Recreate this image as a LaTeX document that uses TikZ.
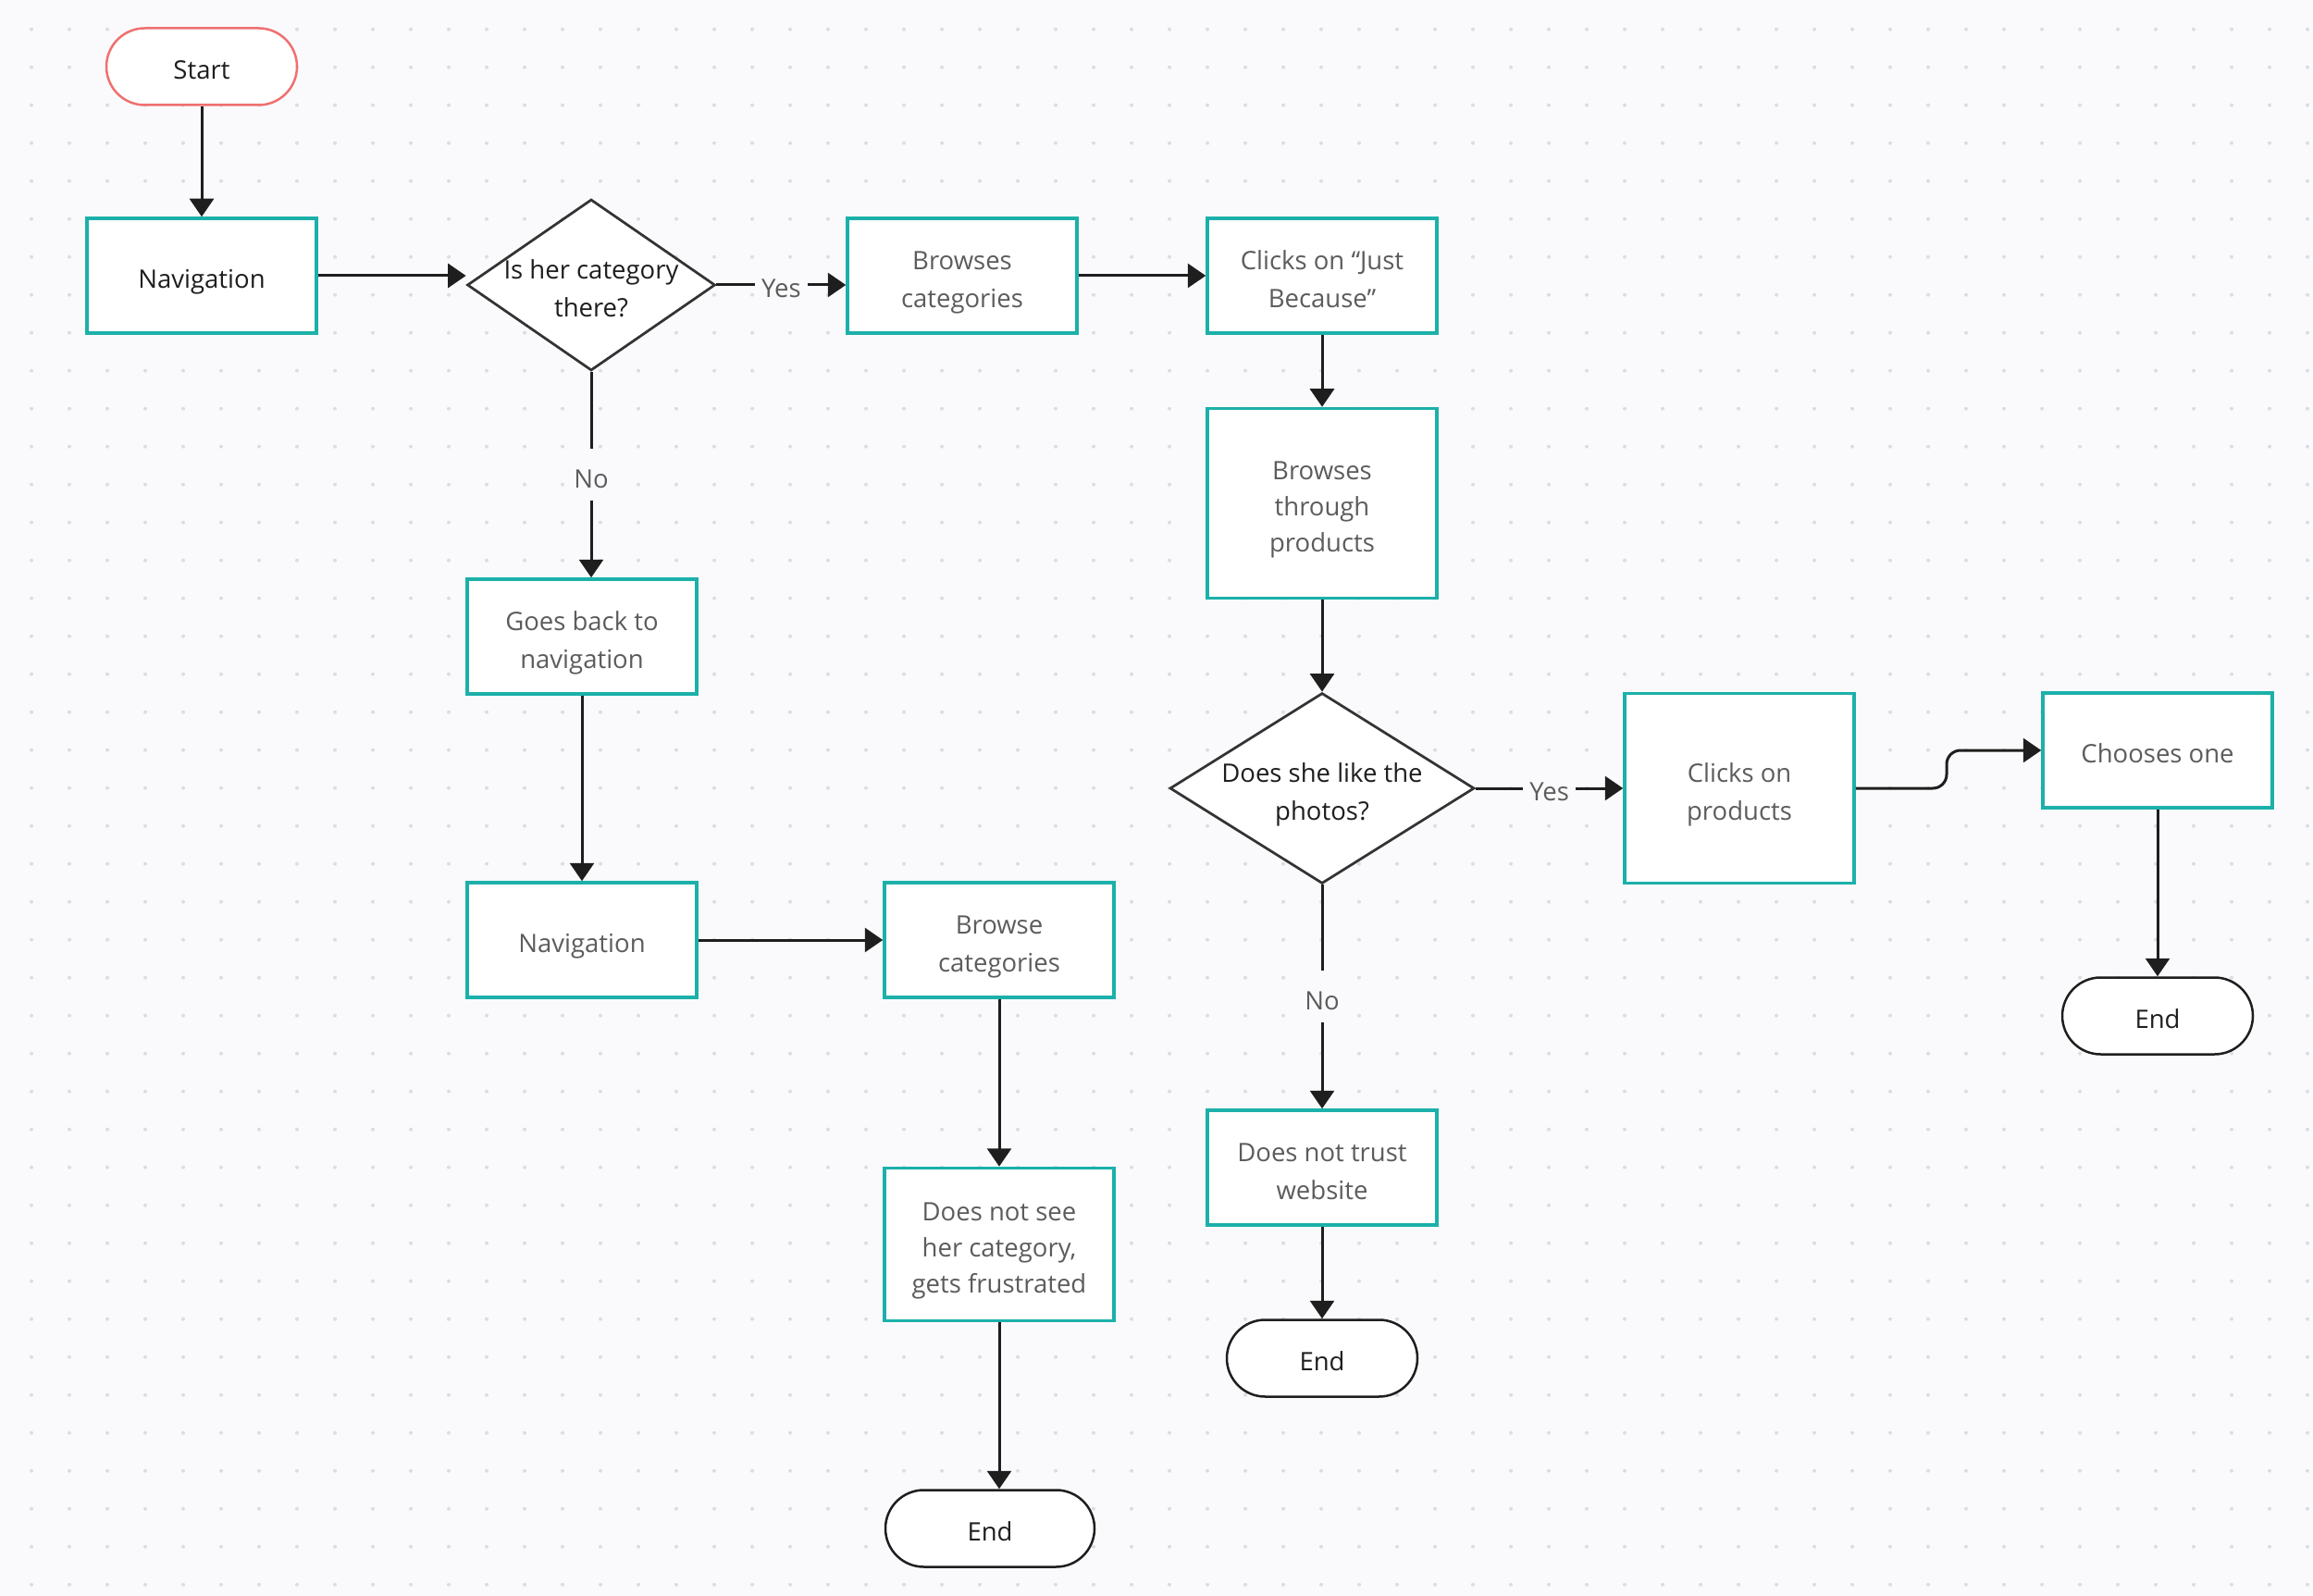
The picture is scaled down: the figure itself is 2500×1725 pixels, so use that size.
\documentclass[tikz,border=0pt]{standalone}
\usepackage{fontspec}
\setmainfont{Open Sans}
\usetikzlibrary{arrows.meta,shapes.geometric}
\definecolor{bgcol}{HTML}{FAFAFC}
\definecolor{griddot}{HTML}{DCDCE3}
\definecolor{boxteal}{RGB}{28,176,170}
\definecolor{startred}{RGB}{240,112,112}
\definecolor{darktext}{HTML}{1E1E1E}
\definecolor{graytext}{HTML}{5C5C5C}
\definecolor{linecol}{HTML}{1E1E1E}
\definecolor{diacol}{HTML}{333333}
\newcommand{\tx}[1]{\raisebox{-2.3pt}[\height][\depth]{\begin{tabular}{@{}c@{}}#1\end{tabular}}}
\begin{document}
\begin{tikzpicture}[x=0.4pt,y=-0.4pt,
  every node/.style={font=\fontsize{11}{16.4}\selectfont},
  stepbox/.style={draw=boxteal, line width=1.4pt, fill=white, minimum width=99.2pt, minimum height=49.6pt, text=graytext, inner sep=2pt},
  tightlines/.style={font=\fontsize{11}{15.6}\selectfont},
  pill/.style={draw=linecol, line width=1pt, fill=white, rounded corners=16.6pt, minimum width=82.4pt, minimum height=33.2pt, text=darktext},
  decision/.style={shape=diamond, draw=diacol, line width=1.1pt, fill=white, minimum width=107.2pt, minimum height=74pt, inner sep=0pt},
  dtext/.style={text=darktext, font=\fontsize{11}{16.4}\selectfont},
  conn/.style={draw=linecol, line width=1.2pt, -{Triangle[length=7.8pt,width=10.4pt]}},
  lbl/.style={fill=bgcol, text=graytext, inner sep=3pt}
]
\fill[bgcol] (0,0) rectangle (2500,1725);
\useasboundingbox (0,0) rectangle (2500,1725);
\foreach \i in {0,...,60} {
  \foreach \j in {0,...,41} {
    \fill[griddot] ({34+41*\i},{31.7+41*\j}) circle (0.8pt);
  }
}

% nodes
\node[pill, draw=startred] (start) at (218,72) {\tx{Start}};
\node[stepbox, text=darktext] (nav1) at (218,298) {\tx{Navigation}};
\node[decision, label={[dtext]center:\tx{Is her category\\there?}}] (d1) at (639,308) {};
\node[stepbox] (bc) at (1040,298) {\tx{Browses\\categories}};
\node[stepbox] (jb) at (1429,298) {\tx{Clicks on “Just\\Because”}};
\node[stepbox, tightlines, minimum height=82pt] (btp) at (1429,544) {\tx{Browses\\through\\products}};
\node[decision, minimum width=131.6pt, minimum height=82.4pt, label={[dtext]center:\tx{Does she like the\\photos?}}] (d2) at (1429,852) {};
\node[stepbox, minimum height=82pt] (cop) at (1880,852) {\tx{Clicks on\\products}};
\node[stepbox] (cho) at (2332,811) {\tx{Chooses one}};
\node[pill] (endR) at (2332,1098) {\tx{End}};
\node[stepbox] (gb) at (629,688) {\tx{Goes back to\\navigation}};
\node[stepbox] (nav2) at (629,1016) {\tx{Navigation}};
\node[stepbox] (brc) at (1080,1016) {\tx{Browse\\categories}};
\node[stepbox, tightlines, minimum height=66pt] (dns) at (1080,1345) {\tx{Does not see\\her category,\\gets frustrated}};
\node[pill, minimum width=90.4pt] (endB) at (1070,1652) {\tx{End}};
\node[stepbox] (dnt) at (1429,1262) {\tx{Does not trust\\website}};
\node[pill] (endM) at (1429,1468) {\tx{End}};

% connectors
\draw[conn] (start.south) -- (nav1.north);
\draw[conn] (nav1.east) -- (nav1.east -| d1.west);
\draw[conn] (d1.east) -- node[lbl]{\tx{Yes}} (d1.east -| bc.west);
\draw[conn] (bc.east) -- (jb.west);
\draw[conn] (jb.south) -- (btp.north);
\draw[conn] (btp.south) -- (d2.north);
\draw[conn] (d2.east) -- node[lbl]{\tx{Yes}} (cop.west);
\draw[conn, rounded corners=6pt] (cop.east) -- (2104,852) -- (2104,811) -- (cho.west);
\draw[conn] (cho.south) -- (endR.north);
\draw[conn] (d1.south) -- node[lbl]{\tx{No}} (d1.south |- gb.north);
\draw[conn] (gb.south) -- (nav2.north);
\draw[conn] (nav2.east) -- (brc.west);
\draw[conn] (brc.south) -- (dns.north);
\draw[conn] (dns.south) -- (dns.south |- endB.north);
\draw[conn] (d2.south) -- node[lbl]{\tx{No}} (dnt.north);
\draw[conn] (dnt.south) -- (endM.north);
\end{tikzpicture}
\end{document}
